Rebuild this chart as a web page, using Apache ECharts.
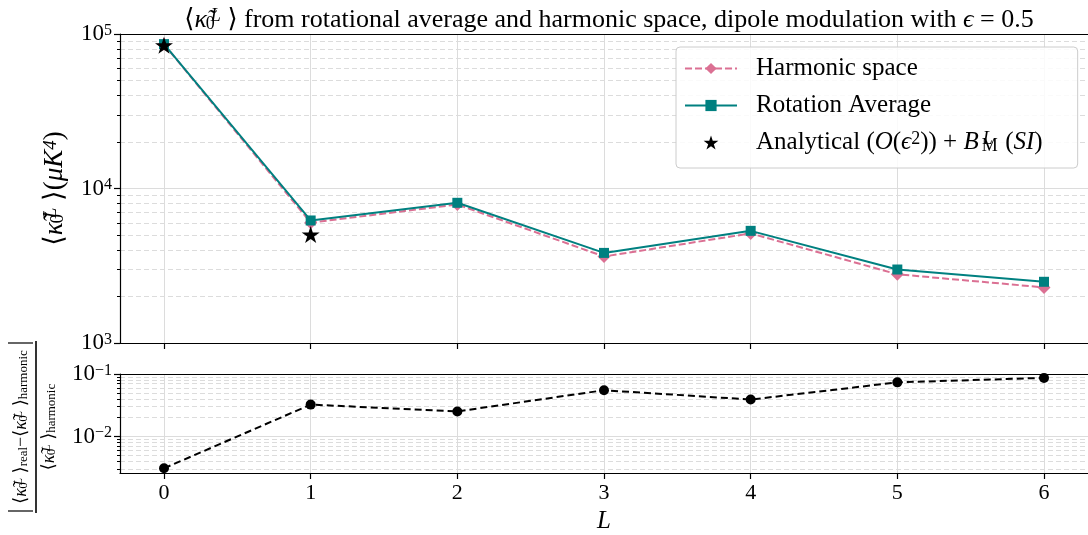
<!DOCTYPE html>
<html>
<head>
<meta charset="utf-8">
<script src="https://cdn.jsdelivr.net/npm/echarts@6/dist/echarts.min.js"></script>
<style>html,body{margin:0;padding:0;background:#fff}#main{width:1088px;height:535px}</style>
</head>
<body>
<div id="main"></div>
<script>
// data
var L = [0, 1, 2, 3, 4, 5, 6];
var harmonic = [85800, 6010, 7880, 3630, 5120, 2785, 2291];
var rotation = [86000, 6210, 8080, 3830, 5320, 2990, 2490];
var analyticalL = [0, 1];
var analytical = [84600, 5040];
var relDiff = [0.0031, 0.0324, 0.0252, 0.055, 0.039, 0.0735, 0.0867];

var xTicks = [0, 1, 2, 3, 4, 5, 6];
var topMajor = [1000, 10000, 100000];
var topMinor = [2000, 3000, 4000, 5000, 6000, 7000, 8000, 9000, 20000, 30000, 40000, 50000, 60000, 70000, 80000, 90000];
var botMajor = [0.01, 0.1];
var botMinor = [0.003, 0.004, 0.005, 0.006, 0.007, 0.008, 0.009, 0.02, 0.03, 0.04, 0.05, 0.06, 0.07, 0.08, 0.09];

var FF = "'Liberation Serif', 'DejaVu Serif', serif";
var chart = echarts.init(document.getElementById('main'));

function pairs(xs, ys) {
    var out = [];
    for (var i = 0; i < xs.length; i++) out.push([xs[i], ys[i]]);
    return out;
}
// rich styles for math-ish text of a given size
function rich(s) {
    var small = Math.round(s * 0.7);
    return {
        it: {fontFamily: FF, fontSize: s, fontStyle: 'italic', color: '#000', lineHeight: s},
        sub: {fontFamily: FF, fontSize: small, color: '#000', lineHeight: s * 0.4, verticalAlign: 'bottom'},
        subz: {fontFamily: FF, fontSize: small, color: '#000', lineHeight: s * 0.4, verticalAlign: 'bottom', width: 1, padding: [0, 0, 0, Math.round(s * 0.12)]},
        sup: {fontFamily: FF, fontSize: small, fontStyle: 'italic', color: '#000', lineHeight: s * 0.3, verticalAlign: 'top'},
        supr: {fontFamily: FF, fontSize: small, color: '#000', lineHeight: s * 0.3, verticalAlign: 'top'},
        b: {fontFamily: FF, fontSize: s, color: '#000', lineHeight: s}
    };
}
var kappa = '⟨{it|κ̃}{subz|0}{sup|L} ⟩';
function powLabel(v) {
    var e = Math.round(Math.log(v) / Math.LN10);
    return '{b|10}{supr|' + String(e).replace('-', '−') + '}';
}

var gridLine = {show: true, lineStyle: {color: '#dcdcdc', width: 1}};
var minorLine = {show: true, lineStyle: {color: '#dcdcdc', width: 1, type: [5, 3]}};

function xBottom(grid, labels) {
    return {
        type: 'value', gridIndex: grid, position: 'bottom', min: -0.3, max: 6.3,
        axisLine: {show: true, onZero: false, lineStyle: {color: '#000', width: 1.2}},
        axisTick: {show: true, length: 6, customValues: xTicks, lineStyle: {color: '#000', width: 1.2}},
        axisLabel: {show: labels, customValues: xTicks, margin: 9, color: '#000', fontFamily: FF, fontSize: 22},
        splitLine: gridLine,
        name: labels ? 'L' : '', nameLocation: 'middle', nameGap: 36,
        nameTextStyle: {fontFamily: FF, fontSize: 25, fontStyle: 'italic', color: '#000'}
    };
}
function xTop(grid) {
    return {
        type: 'value', gridIndex: grid, position: 'top', min: -0.3, max: 6.3,
        axisLine: {show: true, onZero: false, lineStyle: {color: '#000', width: 1.2}},
        axisTick: {show: false}, axisLabel: {show: false}, splitLine: {show: false}
    };
}
function yMajor(grid, mn, mx, vals) {
    return {
        type: 'log', logBase: 10, gridIndex: grid, position: 'left', min: mn, max: mx,
        axisLine: {show: true, onZero: false, lineStyle: {color: '#000', width: 1.2}},
        axisTick: {show: true, length: 6, customValues: vals, lineStyle: {color: '#000', width: 1.2}},
        axisLabel: {show: true, customValues: vals, margin: 8, formatter: powLabel, rich: rich(23)},
        splitLine: gridLine
    };
}
function yMinor(grid, mn, mx, vals) {
    return {
        type: 'log', logBase: 10, gridIndex: grid, position: 'left', min: mn, max: mx,
        axisLine: {show: false, onZero: false},
        axisTick: {show: true, length: 3, customValues: vals, lineStyle: {color: '#000', width: 1}},
        axisLabel: {show: false},
        splitLine: minorLine
    };
}

var starPath = 'path://M10,0 L12.25,6.91 L19.51,6.91 L13.63,11.18 L15.88,18.09 L10,13.82 L4.12,18.09 L6.37,11.18 L0.49,6.91 L7.75,6.91 Z';

var topName = yMajor(0, 1000, 100000, topMajor);
topName.name = kappa + '({it|μK}{sup|4})';
topName.nameLocation = 'middle';
topName.nameRotate = 90;
topName.nameGap = 52;
topName.nameTextStyle = {fontFamily: FF, fontSize: 27, color: '#000', lineHeight: 27, rich: rich(27)};

option = {
    animation: false,
    backgroundColor: '#fff',
    title: {
        text: kappa + ' from rotational average and harmonic space, dipole modulation with {it|ϵ} = 0.5',
        left: 604, top: 2, textAlign: 'center',
        textStyle: {fontFamily: FF, fontSize: 26, fontWeight: 'normal', color: '#000', lineHeight: 26, rich: rich(26)}
    },
    grid: [
        {left: 120, top: 34, width: 969, height: 309},
        {left: 120, top: 374, width: 969, height: 103}
    ],
    legend: {
        orient: 'vertical', left: 676, top: 47,
        itemWidth: 52, itemHeight: 14, itemGap: 12,
        padding: [9, 35, 13, 8],
        borderColor: '#cccccc', borderWidth: 1, borderRadius: 4,
        backgroundColor: 'rgba(255,255,255,0.85)',
        textStyle: {fontFamily: FF, fontSize: 25, color: '#000', padding: [0, 0, 0, 14], lineHeight: 25, rich: rich(25)},
        data: ['Harmonic space', 'Rotation Average', 'Analytical'],
        formatter: function (name) {
            if (name == 'Analytical') {
                return 'Analytical ({it|O}({it|ϵ}{supr|2})) + {it|B}{subz|M}{sup|L}  ({it|SI})';
            }
            return name;
        }
    },
    xAxis: [xBottom(0, false), xTop(0), xBottom(1, true), xTop(1)],
    yAxis: [
        topName,
        yMinor(0, 1000, 100000, topMinor),
        yMajor(1, 0.00261, 0.1, botMajor),
        yMinor(1, 0.00261, 0.1, botMinor)
    ],
    graphic: [{
        type: 'group', x: 36, y: 427, rotation: Math.PI / 2,
        children: [
            {type: 'line', shape: {x1: -86, y1: 0, x2: 86, y2: 0}, style: {stroke: '#000', lineWidth: 1.6}},
            {type: 'line', shape: {x1: -84, y1: -28, x2: -84, y2: -3}, style: {stroke: '#000', lineWidth: 1.2}},
            {type: 'line', shape: {x1: 84, y1: -28, x2: 84, y2: -3}, style: {stroke: '#000', lineWidth: 1.2}},
            {type: 'text', x: 0, y: -15, style: {
                text: kappa + '{sub|real}−' + kappa + '{sub|harmonic}',
                align: 'center', verticalAlign: 'middle',
                fontFamily: FF, fontSize: 18, fill: '#000', lineHeight: 18, rich: rich(18)
            }},
            {type: 'text', x: 0, y: 13, style: {
                text: kappa + '{sub|harmonic}',
                align: 'center', verticalAlign: 'middle',
                fontFamily: FF, fontSize: 18, fill: '#000', lineHeight: 18, rich: rich(18)
            }}
        ]
    }],
    series: [
        {
            name: 'Harmonic space', type: 'line', xAxisIndex: 0, yAxisIndex: 0,
            data: pairs(L, harmonic), color: '#DB7093',
            symbol: 'diamond', symbolSize: 13, z: 2,
            lineStyle: {width: 2, type: [7, 3]}
        },
        {
            name: 'Rotation Average', type: 'line', xAxisIndex: 0, yAxisIndex: 0,
            data: pairs(L, rotation), color: '#008080',
            symbol: 'rect', symbolSize: 10, z: 3,
            lineStyle: {width: 2}
        },
        {
            name: 'Analytical', type: 'scatter', xAxisIndex: 0, yAxisIndex: 0,
            data: pairs(analyticalL, analytical), color: '#000',
            itemStyle: {opacity: 1},
            symbol: starPath, symbolSize: 18, symbolKeepAspect: true, z: 4
        },
        {
            name: 'diff', type: 'line', xAxisIndex: 2, yAxisIndex: 2,
            data: pairs(L, relDiff), color: '#000',
            symbol: 'circle', symbolSize: 10, z: 3,
            lineStyle: {width: 2, type: [7, 4]}
        }
    ]
};
chart.setOption(option);
</script>
</body>
</html>
